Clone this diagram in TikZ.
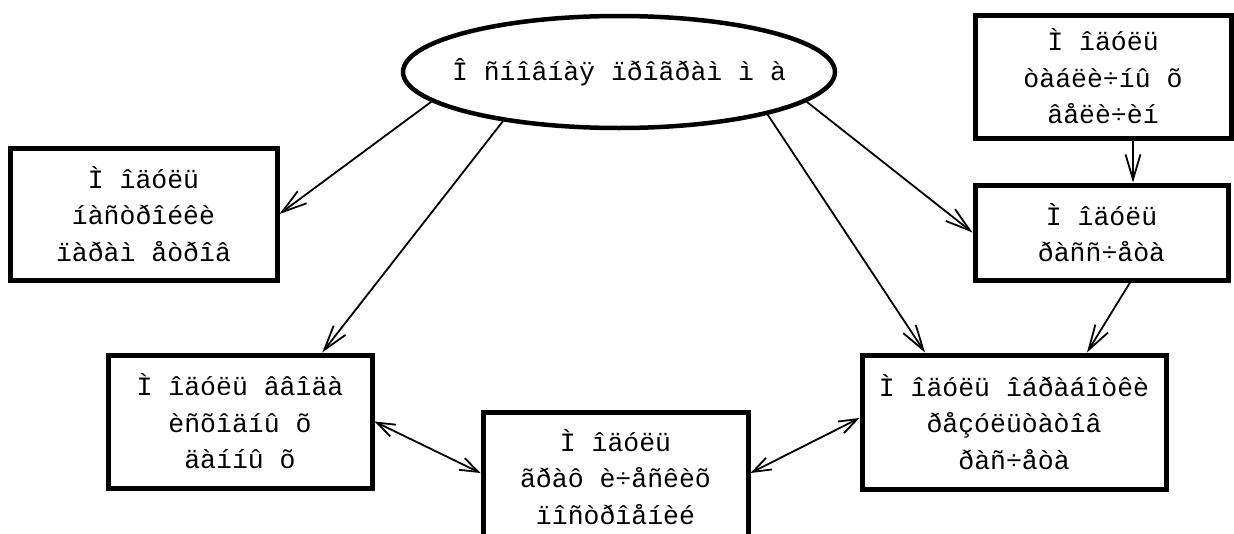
\documentclass[tikz,border=0pt]{standalone}
\usepackage{fontspec}
\newfontfamily\cour{Liberation Mono}
\usetikzlibrary{arrows.meta,shapes.geometric}
\begin{document}
\begin{tikzpicture}[x=1pt,y=-1pt,
  txt/.style={align=center,font=\cour\fontsize{26.5}{36.5}\selectfont,inner sep=0pt},
  box/.style={txt,draw,line width=5pt,rectangle},
  oval/.style={draw,line width=4.5pt,ellipse,inner sep=0pt},
  arr/.style={line width=1.8pt,-{Straight Barb[length=25pt,width=15pt]}},
  biarr/.style={line width=1.8pt,{Straight Barb[length=18pt,width=13pt]}-{Straight Barb[length=18pt,width=13pt]}}]
\useasboundingbox (0,0) rectangle (1234,533);
\node[oval,minimum width=432pt,minimum height=112pt,
  label={[txt]center:Î ñíîâíàÿ ïðîãðàì ì à}] (E) at (619,72) {};
\node[box,minimum width=267pt,minimum height=132pt] (L) at (143.5,214) {Ì îäóëü\\íàñòðîéêè\\ïàðàì åòðîâ};
\node[box,minimum width=256pt,minimum height=123pt] (TR) at (1103,76.5) {Ì îäóëü\\òàáëè÷íû õ\\âåëè÷èí};
\node[box,minimum width=253pt,minimum height=95pt] (MR) at (1101.5,232.5) {Ì îäóëü\\ðàññ÷åòà};
\node[box,minimum width=264pt,minimum height=133pt] (BL) at (240,421.5) {Ì îäóëü ââîäà\\èñõîäíû õ\\äàííû õ};
\node[box,minimum width=265pt,minimum height=130pt] (MB) at (615.5,477) {Ì îäóëü\\ãðàô è÷åñêèõ\\ïîñòðîåíèé};
\node[box,minimum width=304pt,minimum height=134pt] (BR) at (1014,422) {Ì îäóëü îáðàáîòêè\\ðåçóëüòàòîâ\\ðàñ÷åòà};
\draw[arr] (E.189) -- (L.east);
\draw[arr] (E.203.7) -- (BL.40.4);
\draw[arr] (E.351.3) -- (MR.west);
\draw[arr] (E.344.5) -- (BR.142.4);
\draw[arr] ([xshift=30pt]TR.south) -- ([xshift=30pt]TR.south |- MR.north);
\draw[arr] ([xshift=28.5pt]MR.south) -- ([xshift=73pt]BR.north);
\draw[biarr] (BL.east) -- ([yshift=4pt]MB.west);
\draw[biarr] ([yshift=4pt]MB.east) -- ([yshift=4pt]BR.west);
\end{tikzpicture}
\end{document}
